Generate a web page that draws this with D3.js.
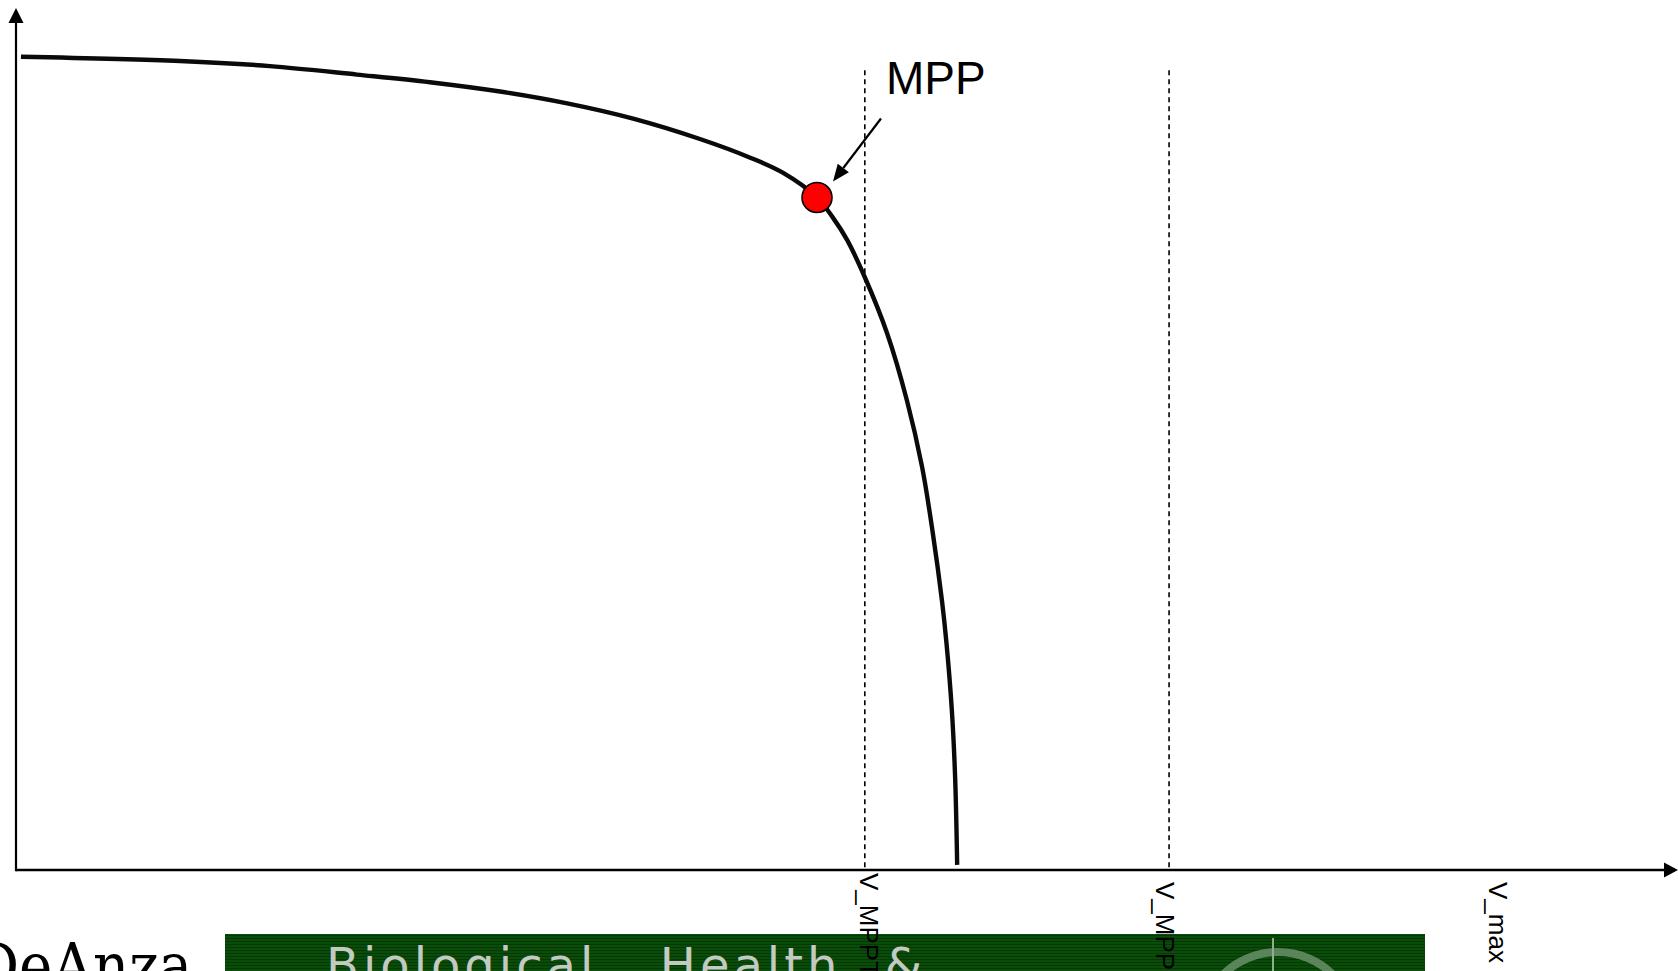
<!DOCTYPE html>
<html>
<head>
<meta charset="utf-8">
<script src="https://cdn.jsdelivr.net/npm/d3@7"></script>
<style>
  html, body { margin: 0; padding: 0; background: #ffffff; overflow: hidden; }
  svg { display: block; }
</style>
</head>
<body>
<svg id="chart" width="1678" height="971"></svg>
<script>
// ---- data (arbitrary units) ----
const voltage = [0.12, 3.98, 6.16, 8.27, 10.04, 11.74, 13.37, 14.97, 16.59, 17.81, 18.61, 19.43,
                 19.82, 20.16, 20.59, 21.13, 21.61, 21.98, 22.24, 22.46, 22.57, 22.70, 22.78, 22.83];
const current = [9.59, 9.54, 9.48, 9.38, 9.29, 9.18, 9.04, 8.86, 8.62, 8.40, 8.22, 7.93,
                 7.69, 7.43, 6.99, 6.33, 5.54, 4.75, 3.97, 3.18, 2.68, 1.89, 1.10, 0.06];
const mppPoint = [19.43, 7.93];
const mppLabel = "MPP";
const markerValues = [20.59, 27.97];
const markerTop = 9.43;
const tickLabels = ["V_MPPT", "V_MPP", "V_max"];
const tickValues = [20.45, 27.65, 35.73];

const W = 1678, H = 971;
const svg = d3.select("#chart");

const x = d3.scaleLinear().domain([0, 40]).range([16, 1665]);
const y = d3.scaleLinear().domain([0, 10]).range([870, 22]);

// ---- bottom decoration (page footer visible in the screenshot) ----
const defs = svg.append("defs");
const pat = defs.append("pattern").attr("id", "stripes")
  .attr("patternUnits", "userSpaceOnUse").attr("width", 8).attr("height", 3);
pat.append("rect").attr("width", 8).attr("height", 3).attr("fill", "#0b4c0b");
pat.append("rect").attr("y", 2).attr("width", 8).attr("height", 1).attr("fill", "#033a03");

const footer = svg.append("g");
footer.append("text")
  .attr("transform", "translate(-26,987) scale(0.97,1.06)")
  .attr("font-family", "'DejaVu Serif', serif")
  .attr("font-size", 58)
  .attr("fill", "#000")
  .text("DeAnza");
footer.append("rect")
  .attr("x", 225).attr("y", 934).attr("width", 1200).attr("height", 40)
  .attr("fill", "url(#stripes)");
footer.append("text")
  .attr("x", 326).attr("y", 982)
  .attr("font-family", "'DejaVu Sans', sans-serif")
  .attr("font-size", 48)
  .attr("letter-spacing", 4)
  .attr("word-spacing", 24)
  .attr("fill", "#c2cac2")
  .text("Biological, Health &");
footer.append("path")
  .attr("d", d3.arc()({innerRadius: 74, outerRadius: 82, startAngle: -Math.PI / 2, endAngle: Math.PI / 2}))
  .attr("transform", "translate(1278,1030)")
  .attr("fill", "#6f956f").attr("opacity", 0.8);
footer.append("line")
  .attr("x1", 1273).attr("x2", 1273).attr("y1", 938).attr("y2", 971)
  .attr("stroke", "#8fae8f").attr("stroke-width", 2);

// ---- dashed marker lines ----
svg.append("g").selectAll("line").data(markerValues).join("line")
  .attr("x1", d => x(d)).attr("x2", d => x(d))
  .attr("y1", y(markerTop)).attr("y2", y(0))
  .attr("stroke", "#000").attr("stroke-width", 1.6)
  .attr("stroke-dasharray", "5,4");

// ---- axes ----
const axisG = svg.append("g").attr("transform", `translate(0,${y(0)})`);
const xAxis = d3.axisBottom(x).tickValues(tickValues)
  .tickFormat((d, i) => tickLabels[i]).tickSize(0);
axisG.call(xAxis);
axisG.select(".domain").remove();
axisG.selectAll(".tick text")
  .attr("transform", "rotate(90)")
  .attr("text-anchor", "start")
  .attr("x", (d, i) => i === 0 ? 3 : 12)
  .attr("y", 0).attr("dy", 0)
  .attr("font-family", "'Liberation Sans', Arial, sans-serif")
  .attr("font-size", 26)
  .attr("fill", "#000");

const axes = svg.append("g");
axes.append("line")
  .attr("x1", x.range()[0]).attr("x2", x.range()[1])
  .attr("y1", y(0)).attr("y2", y(0))
  .attr("stroke", "#000").attr("stroke-width", 2.6);
axes.append("path")
  .attr("d", `M${x.range()[1] - 1},${y(0) - 7.5}L${W},${y(0)}L${x.range()[1] - 1},${y(0) + 7.5}Z`)
  .attr("fill", "#000");
axes.append("line")
  .attr("x1", x(0)).attr("x2", x(0))
  .attr("y1", y(0) + 1.3).attr("y2", y.range()[1])
  .attr("stroke", "#000").attr("stroke-width", 2.2);
axes.append("path")
  .attr("d", `M${x(0) - 7.5},${y.range()[1] + 1}L${x(0)},8L${x(0) + 7.5},${y.range()[1] + 1}Z`)
  .attr("fill", "#000");

// ---- I-V curve ----
const pts = voltage.map((v, i) => [v, current[i]]);
const line = d3.line().x(d => x(d[0])).y(d => y(d[1])).curve(d3.curveCatmullRom.alpha(0.5));
svg.append("path")
  .attr("d", line(pts))
  .attr("fill", "none")
  .attr("stroke", "#0a0a0a")
  .attr("stroke-width", 4.4)
  .attr("stroke-linecap", "butt");

// ---- MPP marker and annotation ----
const mx = x(mppPoint[0]), my = y(mppPoint[1]);
const ann = svg.append("g");
const tailX = mx + 64, tailY = my - 79;
const tipX = mx + 16, tipY = my - 16;
const ang = Math.atan2(tipY - tailY, tipX - tailX);
const headLen = 17, headW = 7;
const bx = tipX - headLen * Math.cos(ang), by = tipY - headLen * Math.sin(ang);
ann.append("line")
  .attr("x1", tailX).attr("y1", tailY).attr("x2", bx).attr("y2", by)
  .attr("stroke", "#000").attr("stroke-width", 2.2);
ann.append("path")
  .attr("d", `M${tipX},${tipY}L${bx + headW * Math.sin(ang)},${by - headW * Math.cos(ang)}L${bx - headW * Math.sin(ang)},${by + headW * Math.cos(ang)}Z`)
  .attr("fill", "#000");
ann.append("circle")
  .attr("cx", mx).attr("cy", my).attr("r", 15)
  .attr("fill", "#ff0000").attr("stroke", "#000").attr("stroke-width", 1.6);
ann.append("text")
  .attr("x", mx + 69).attr("y", my - 104)
  .attr("font-family", "'Liberation Sans', Arial, sans-serif")
  .attr("font-size", 46)
  .attr("fill", "#000")
  .text(mppLabel);
</script>
</body>
</html>
